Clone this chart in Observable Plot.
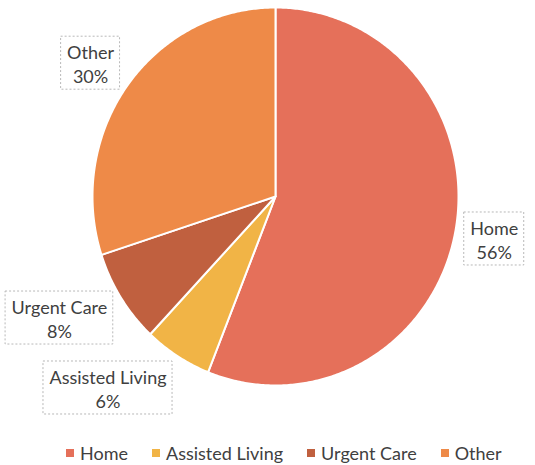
<!DOCTYPE html>
<html><head><meta charset="utf-8">
<script src="https://cdn.jsdelivr.net/npm/d3@7"></script>
<script src="https://cdn.jsdelivr.net/npm/@observablehq/plot@0.6"></script>
<style>
body{margin:0;background:#fff;font-family:Lato, sans-serif;}
#legend{margin-left:66px;}
#legend svg{margin-right:6px !important;}
#legend [class$="-swatch"]{margin-right:24px !important;}
</style></head><body><div id="chart"></div><div id="legend"></div>
<script>
// ---- data ----
const categories = ["Home", "Assisted Living", "Urgent Care", "Other"];
const values = [56, 6, 8, 30];
const colors = ["#E5705A", "#F1B446", "#C0603F", "#EE8A48"];

// ---- layout ----
const W = 535, H = 436, cx = 275, cy = 196, rx = 183, ry = 189;
const FONT = "18px Lato";

const rows = categories.map((c, i) => ({category: c, value: values[i]}));
const arcs = d3.pie().sort(null).value(d => d.value)(rows);

// wedge outlines, computed from the pie angles
const pts = [];
for (const s of arcs) {
  const c = s.data.category;
  pts.push({category: c, x: 0, y: 0});
  const n = Math.max(2, Math.ceil((s.endAngle - s.startAngle) / 0.01));
  for (let k = 0; k <= n; k++) {
    const a = s.startAngle + (s.endAngle - s.startAngle) * k / n;
    pts.push({category: c, x: Math.sin(a), y: Math.cos(a)});
  }
  pts.push({category: c, x: 0, y: 0});
}

// labels
const ctx = document.createElement("canvas").getContext("2d");
ctx.font = FONT;
const labels = arcs.map(s => {
  const mid = (s.startAngle + s.endAngle) / 2;
  const name = s.data.category;
  const pct = Math.round(s.data.value) + "%";
  const tw = Math.max(ctx.measureText(name).width, ctx.measureText(pct).width);
  const side = Math.sign(Math.sin(mid));
  const hw = (tw / 2 + 6) / rx, hh = 26.5 / ry;
  const x = 1.05 * Math.sin(mid) + side * hw;
  const y = 1.2 * Math.cos(mid);
  return {text: name + "\n" + pct, x, y, x1: x - hw, x2: x + hw, y1: y - hh, y2: y + hh};
});

const plot = Plot.plot({
  width: W, height: H, margin: 0,
  style: {fontFamily: "Lato, sans-serif", background: "#fff", overflow: "visible"},
  x: {domain: [-1, 1], range: [cx - rx, cx + rx], axis: null},
  y: {domain: [-1, 1], range: [cy + ry, cy - ry], axis: null},
  color: {domain: categories, range: colors},
  marks: [
    Plot.line(pts, {x: "x", y: "y", z: "category", fill: "category", stroke: "white", strokeWidth: 2, curve: "linear-closed"}),
    Plot.rect(labels, {x1: "x1", x2: "x2", y1: "y1", y2: "y2", fill: "white", stroke: "#b8b8b8", strokeWidth: 1, strokeDasharray: "2,2"}),
    Plot.text(labels, {x: "x", y: "y", text: "text", fontSize: 18, lineHeight: 1.35, fill: "#404040", textAnchor: "middle"})
  ]
});
document.getElementById("chart").appendChild(plot);

const leg = plot.legend("color", {swatchSize: 8, style: {fontFamily: "Lato, sans-serif", fontSize: "18px", color: "#404040"}});
document.getElementById("legend").appendChild(leg);
</script></body></html>
